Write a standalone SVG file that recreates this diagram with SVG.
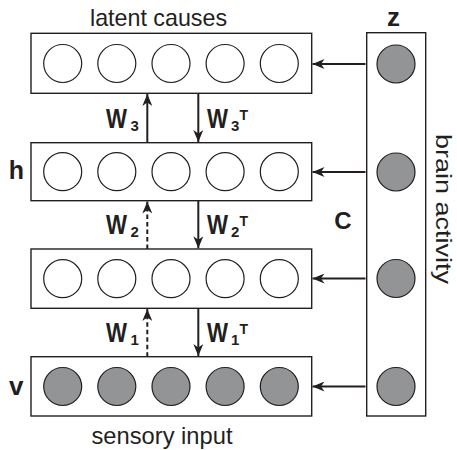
<svg xmlns="http://www.w3.org/2000/svg" width="457" height="450" viewBox="0 0 457 450">
<style>
.box{fill:#fff;stroke:#231f20;stroke-width:1.4}
.u{fill:#fff;stroke:#231f20;stroke-width:1.2}
.f{fill:#929495;stroke:#231f20;stroke-width:1.2}
.ln{stroke:#231f20;stroke-width:2;fill:none}
.ds{stroke-dasharray:4.5 3}
.t{font-family:"Liberation Sans",Arial,sans-serif;fill:#231f20}
.b{font-family:"Liberation Sans",Arial,sans-serif;font-weight:bold;fill:#231f20}
.w{font-size:27px}
.s{font-size:15px}
.p{font-size:14px}
</style>
<defs>
<marker id="ah" viewBox="0 0 12 10" refX="12" refY="5" markerWidth="12" markerHeight="10" markerUnits="userSpaceOnUse" orient="auto">
<path d="M0,0 L12,5 L0,10 L3.5,5 z" fill="#231f20"/>
</marker>
</defs>
<rect width="457" height="450" fill="#fff"/>
<g id="brain">
<rect class="box" x="366.7" y="32.7" width="59" height="383.3"/>
<circle class="f" cx="396" cy="64" r="19"/>
<circle class="f" cx="396" cy="172" r="19"/>
<circle class="f" cx="396" cy="278.5" r="19"/>
<circle class="f" cx="396" cy="386.5" r="19"/>
<text class="b" x="393.5" y="26" font-size="26" text-anchor="middle">z</text>
<text class="t" font-size="22" transform="translate(435.5,134) rotate(90)" textLength="150" lengthAdjust="spacingAndGlyphs">brain activity</text>
</g>
<g id="layer3">
<rect class="box" x="31" y="33.3" width="280.7" height="60"/>
<circle class="u" cx="62.7" cy="63.5" r="19"/>
<circle class="u" cx="116.8" cy="63.5" r="19"/>
<circle class="u" cx="171" cy="63.5" r="19"/>
<circle class="u" cx="225.1" cy="63.5" r="19"/>
<circle class="u" cx="279.3" cy="63.5" r="19"/>
<text class="t" x="158.5" y="25.5" font-size="24" text-anchor="middle" textLength="137" lengthAdjust="spacingAndGlyphs">latent causes</text>
</g>
<g id="layer2">
<rect class="box" x="31" y="142.7" width="280.7" height="58"/>
<circle class="u" cx="62.7" cy="171.7" r="19"/>
<circle class="u" cx="116.8" cy="171.7" r="19"/>
<circle class="u" cx="171" cy="171.7" r="19"/>
<circle class="u" cx="225.1" cy="171.7" r="19"/>
<circle class="u" cx="279.3" cy="171.7" r="19"/>
<text class="b" x="16.5" y="178.5" font-size="25" text-anchor="middle">h</text>
</g>
<g id="layer1">
<rect class="box" x="31" y="249" width="280.7" height="59.3"/>
<circle class="u" cx="62.7" cy="278.7" r="19"/>
<circle class="u" cx="116.8" cy="278.7" r="19"/>
<circle class="u" cx="171" cy="278.7" r="19"/>
<circle class="u" cx="225.1" cy="278.7" r="19"/>
<circle class="u" cx="279.3" cy="278.7" r="19"/>
</g>
<g id="visible">
<rect class="box" x="31" y="356.7" width="280.7" height="59.3"/>
<circle class="f" cx="62.7" cy="386.5" r="19"/>
<circle class="f" cx="116.8" cy="386.5" r="19"/>
<circle class="f" cx="171" cy="386.5" r="19"/>
<circle class="f" cx="225.1" cy="386.5" r="19"/>
<circle class="f" cx="279.3" cy="386.5" r="19"/>
<text class="b" x="16.3" y="395" font-size="26" text-anchor="middle">v</text>
<text class="t" x="162" y="443.5" font-size="24.5" text-anchor="middle" textLength="141" lengthAdjust="spacingAndGlyphs">sensory input</text>
</g>
<g id="connectors">
<line class="ln" x1="365.5" y1="64" x2="312.5" y2="64" marker-end="url(#ah)"/>
<line class="ln" x1="365.5" y1="172" x2="312.5" y2="172" marker-end="url(#ah)"/>
<line class="ln" x1="365.5" y1="278.5" x2="312.5" y2="278.5" marker-end="url(#ah)"/>
<line class="ln" x1="365.5" y1="386.5" x2="312.5" y2="386.5" marker-end="url(#ah)"/>
<line class="ln" x1="147.3" y1="142.7" x2="147.3" y2="94" marker-end="url(#ah)"/>
<line class="ln" x1="198.3" y1="93.3" x2="198.3" y2="142" marker-end="url(#ah)"/>
<line class="ln ds" x1="147.3" y1="249" x2="147.3" y2="201.5" marker-end="url(#ah)"/>
<line class="ln" x1="198.3" y1="200.7" x2="198.3" y2="248.3" marker-end="url(#ah)"/>
<line class="ln ds" x1="147.3" y1="356.7" x2="147.3" y2="309" marker-end="url(#ah)"/>
<line class="ln" x1="198.3" y1="308.3" x2="198.3" y2="356" marker-end="url(#ah)"/>
</g>
<g id="labels">
<text class="b w" x="106" y="128" textLength="21" lengthAdjust="spacingAndGlyphs">W</text>
<text class="b s" x="130.5" y="131">3</text>
<text class="b w" x="207" y="128" textLength="21" lengthAdjust="spacingAndGlyphs">W</text>
<text class="b s" x="231" y="131">3</text>
<text class="b p" x="239.5" y="120">T</text>
<text class="b w" x="106" y="234" textLength="21" lengthAdjust="spacingAndGlyphs">W</text>
<text class="b s" x="130.5" y="237">2</text>
<text class="b w" x="207" y="234" textLength="21" lengthAdjust="spacingAndGlyphs">W</text>
<text class="b s" x="231" y="237">2</text>
<text class="b p" x="239.5" y="226">T</text>
<text class="b w" x="106" y="342" textLength="21" lengthAdjust="spacingAndGlyphs">W</text>
<text class="b s" x="130.5" y="345">1</text>
<text class="b w" x="207" y="342" textLength="21" lengthAdjust="spacingAndGlyphs">W</text>
<text class="b s" x="231" y="345">1</text>
<text class="b p" x="239.5" y="334">T</text>
<text class="b" x="343" y="228.5" font-size="24" text-anchor="middle">C</text>
</g>
</svg>
